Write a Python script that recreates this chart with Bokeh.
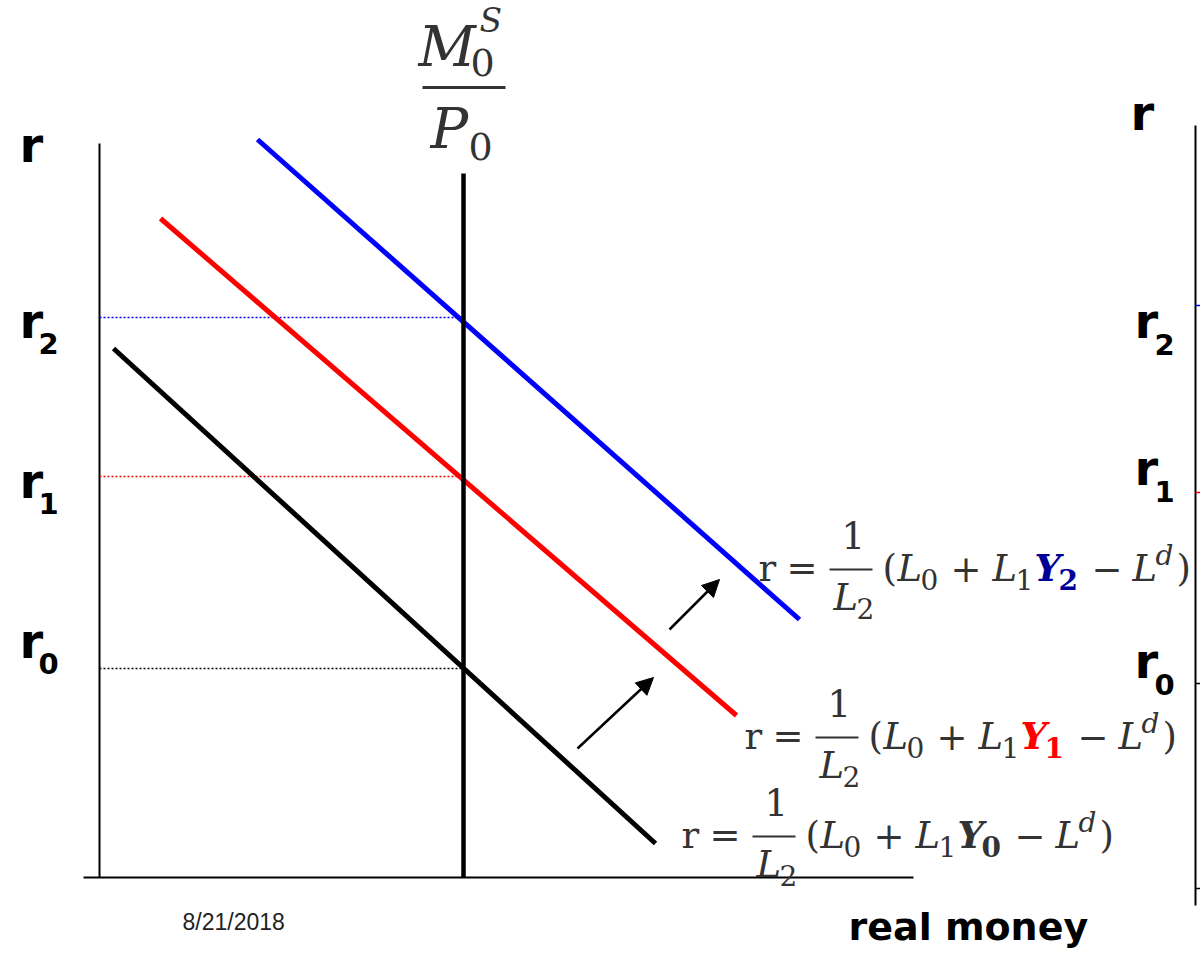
from bokeh.plotting import figure
from bokeh.models import Range1d, Arrow, NormalHead, ColumnDataSource
from bokeh.core.properties import value
from bokeh.embed import file_html
from bokeh.resources import INLINE

# ---------------- data (picture pixel units, y downward) ----
curve_colors = ["#000000", "#ff0000", "#0000ff"]          # L(Y0), L(Y1), L(Y2)
curve_x0 = [113, 160, 257]
curve_y0 = [348, 218, 139]
curve_x1 = [655, 736, 799]
curve_y1 = [843, 715, 619]

supply_x = [463]          # real money supply M0/P0
supply_top = [173]
origin_x = [99]
origin_y = [877]
axis_top = [143]
axis_x_start = [83]
axis_x_end = [913]

r_levels = [668, 476, 317]            # r0, r1, r2 (equilibria)
r_colors = ["#000000", "#ff0000", "#0000ff"]
r_subs = ["0", "1", "2"]
r_label_base = [658, 498, 338]        # left labels
r_right_base = [678, 485, 338]        # right (clipped) panel labels

arrow_x0 = [577, 669]
arrow_y0 = [748, 629]
arrow_x1 = [653, 719]
arrow_y1 = [677, 579]

eq_x = [681, 744, 758]
eq_y = [848, 749, 581]
eq_sub = ["0", "1", "2"]
eq_ycolor = ["#333333", "#ff0000", "#000099"]

right_axis_x = [1195]
right_axis_top = [125]
right_axis_bottom = [905]
right_ticks = [305, 492, 683, 888]
right_tick_colors = ["#0000ff", "#ff0000", "#000000", "#000000"]

# ---------------- figure -----------------------------------------------------------
W, H = 1200, 957
p = figure(width=W, height=H, output_backend="svg", toolbar_location=None,
           x_range=Range1d(0, W), y_range=Range1d(H, 0),
           x_axis_type=None, y_axis_type=None, min_border=0)
p.outline_line_color = None
p.xgrid.visible = False
p.ygrid.visible = False
p.background_fill_color = "white"
p.border_fill_color = "white"

TXT = "#333333"
BASE_K = 0.36   # baseline correction (fraction of font size)

def txt(xs, ys, texts, font, size, style="normal", color="black", align="left"):
    p.text(x=xs, y=[y - BASE_K * size for y in ys], text=texts, text_font=value(font),
           text_font_size=value(f"{size}px"), text_font_style=style,
           text_color=color, text_baseline="alphabetic", text_align=align)

# axes
p.segment(x0=origin_x, y0=axis_top, x1=origin_x, y1=origin_y, line_color="black", line_width=2)
p.segment(x0=axis_x_start, y0=origin_y, x1=axis_x_end, y1=origin_y, line_color="black", line_width=2)

# dotted equilibrium lines
p.segment(x0=[origin_x[0]] * 3, y0=r_levels, x1=[supply_x[0]] * 3, y1=r_levels,
          line_color=r_colors, line_width=1.5, line_dash="2 2")

# money demand curves
p.segment(x0=curve_x0, y0=curve_y0, x1=curve_x1, y1=curve_y1,
          line_color=curve_colors, line_width=5)

# money supply
p.segment(x0=supply_x, y0=supply_top, x1=supply_x, y1=origin_y, line_color="black", line_width=4.5)

# arrows
asrc = ColumnDataSource(dict(x0=arrow_x0, y0=arrow_y0, x1=arrow_x1, y1=arrow_y1))
p.add_layout(Arrow(source=asrc, x_start="x0", y_start="y0", x_end="x1", y_end="y1",
                   line_width=2.5, line_color="black",
                   end=NormalHead(size=17, fill_color="black", line_color="black")))

# left labels
LF = "DejaVu Sans"
txt([19], [162], ["r"], LF, 48, "bold")
txt([19] * 3, r_label_base, ["r"] * 3, LF, 48, "bold")
txt([38] * 3, [b + 15 for b in r_label_base], r_subs, LF, 29, "bold")

# right clipped panel
p.segment(x0=right_axis_x, y0=right_axis_top, x1=right_axis_x, y1=right_axis_bottom,
          line_color="black", line_width=2)
p.segment(x0=[right_axis_x[0]] * 4, y0=right_ticks, x1=[right_axis_x[0] + 6] * 4, y1=right_ticks,
          line_color=right_tick_colors, line_width=1.5)
txt([1130], [130], ["r"], LF, 48, "bold")
txt([1134] * 3, r_right_base, ["r"] * 3, LF, 48, "bold")
txt([1154] * 3, [b + 16 for b in r_right_base], r_subs, LF, 29, "bold")

# bottom texts
txt([182], [930], ["8/21/2018"], "Liberation Sans", 23, "normal", "#222222")
txt([848], [940], ["real money"], LF, 38, "bold")

# M0^S / P0
SF = "DejaVu Serif"
txt([418], [66], ["M"], SF, 56, "italic", TXT)
txt([479], [32], ["S"], SF, 33, "italic", TXT)
txt([470], [76], ["0"], SF, 38, "normal", TXT)
p.segment(x0=[422], y0=[87], x1=[505], y1=[87], line_color=TXT, line_width=3)
txt([430], [148], ["P"], SF, 56, "italic", TXT)
txt([468], [160], ["0"], SF, 38, "normal", TXT)

# equations r = 1/L2 (L0 + L1 Y_k - L^d)
BIG, SMALL = 37, 28
for x0, y0, k, yc in zip(eq_x, eq_y, eq_sub, eq_ycolor):
    pieces = [
        (0, 0, "r", BIG, "normal", TXT),
        (28, 0, "=", BIG, "normal", TXT),
        (83, -33, "1", BIG, "normal", TXT),
        (75, 29, "L", BIG, "italic", TXT),
        (98, 37, "2", SMALL, "normal", TXT),
        (124, 0, "(", BIG, "normal", TXT),
        (139, 0, "L", BIG, "italic", TXT),
        (162, 8, "0", SMALL, "normal", TXT),
        (192, 0, "+", BIG, "normal", TXT),
        (234, 0, "L", BIG, "italic", TXT),
        (257, 8, "1", SMALL, "normal", TXT),
        (276, 0, "Y", BIG, "bold italic", yc),
        (300, 8, k, SMALL, "bold", yc),
        (333, 0, "\u2212", BIG, "normal", TXT),
        (374, 0, "L", BIG, "italic", TXT),
        (397, -16, "d", SMALL, "italic", TXT),
        (418, 0, ")", BIG, "normal", TXT),
    ]
    for dx, dy, t, s, st, c in pieces:
        txt([x0 + dx], [y0 + dy], [t], SF, s, st, c)
    p.segment(x0=[x0 + 71], y0=[y0 - 12], x1=[x0 + 114], y1=[y0 - 12], line_color=TXT, line_width=2)

open("out.html", "w").write(file_html(p, INLINE))
